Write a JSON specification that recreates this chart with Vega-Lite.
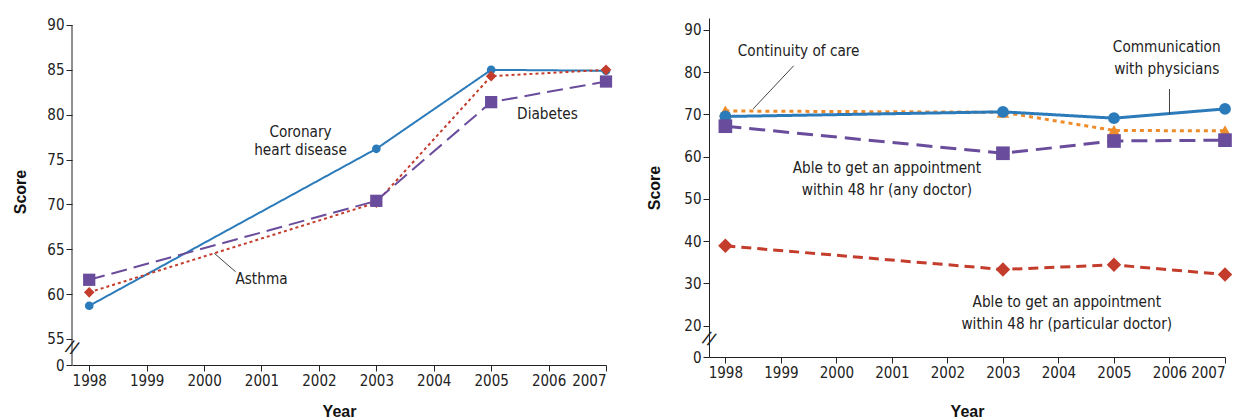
{
  "$schema": "https://vega.github.io/schema/vega-lite/v6.json",
  "padding": {"left": 12, "top": 17, "right": 0, "bottom": 0},
  "background": "white",
  "spacing": 33,
  "resolve": {"scale": {"color": "independent", "shape": "independent", "size": "independent", "strokeDash": "independent", "strokeWidth": "independent"}},
  "datasets": {
    "left": [
      {"series": "Coronary heart disease", "year": 1998, "score": 58.7},
      {"series": "Coronary heart disease", "year": 2003, "score": 76.2},
      {"series": "Coronary heart disease", "year": 2005, "score": 85.0},
      {"series": "Coronary heart disease", "year": 2007, "score": 84.9},
      {"series": "Asthma", "year": 1998, "score": 60.2},
      {"series": "Asthma", "year": 2003, "score": 70.2},
      {"series": "Asthma", "year": 2005, "score": 84.3},
      {"series": "Asthma", "year": 2007, "score": 85.0},
      {"series": "Diabetes", "year": 1998, "score": 61.6},
      {"series": "Diabetes", "year": 2003, "score": 70.4},
      {"series": "Diabetes", "year": 2005, "score": 81.4},
      {"series": "Diabetes", "year": 2007, "score": 83.7}
    ],
    "right": [
      {"series": "Continuity of care", "year": 1998, "score": 70.8},
      {"series": "Continuity of care", "year": 2003, "score": 70.5},
      {"series": "Continuity of care", "year": 2005, "score": 66.2},
      {"series": "Continuity of care", "year": 2007, "score": 66.1},
      {"series": "Communication with physicians", "year": 1998, "score": 69.5},
      {"series": "Communication with physicians", "year": 2003, "score": 70.6},
      {"series": "Communication with physicians", "year": 2005, "score": 69.1},
      {"series": "Communication with physicians", "year": 2007, "score": 71.3},
      {"series": "Any doctor", "year": 1998, "score": 67.2},
      {"series": "Any doctor", "year": 2003, "score": 60.8},
      {"series": "Any doctor", "year": 2005, "score": 63.7},
      {"series": "Any doctor", "year": 2007, "score": 63.9},
      {"series": "Particular doctor", "year": 1998, "score": 38.9},
      {"series": "Particular doctor", "year": 2003, "score": 33.3},
      {"series": "Particular doctor", "year": 2005, "score": 34.4},
      {"series": "Particular doctor", "year": 2007, "score": 32.1}
    ],
    "leftNotes": [
      {"label": "Coronary\nheart disease", "year": 2001.68, "score": 78.1},
      {"label": "Diabetes", "year": 2005.98, "score": 80.1},
      {"label": "Asthma", "year": 2001.0, "score": 61.7}
    ],
    "rightNotes": [
      {"label": "Continuity of care", "year": 1999.32, "score": 84.9},
      {"label": "Communication\nwith physicians", "year": 2005.95, "score": 86.0},
      {"label": "Able to get an appointment\nwithin 48 hr (any doctor)", "year": 2000.91, "score": 57.4},
      {"label": "Able to get an appointment\nwithin 48 hr (particular doctor)", "year": 2004.15, "score": 25.6}
    ],
    "leftLeaders": [
      {"year": 2000.18, "score": 64.54, "year2": 2000.55, "score2": 62.49}
    ],
    "rightLeaders": [
      {"year": 1999.23, "score": 81.5, "year2": 1998.5, "score2": 71.3},
      {"year": 2006.0, "score": 76.0, "year2": 2006.0, "score2": 70.1}
    ]
  },
  "hconcat": [
    {
      "width": 534,
      "height": 347,
      "layer": [
        {
          "data": {"values": [{}]},
          "mark": {"type": "rule", "color": "#222", "strokeWidth": 1},
          "encoding": {
            "x": {"datum": 1997.7, "type": "quantitative"},
            "y": {"datum": 52.1, "type": "quantitative"},
            "y2": {"datum": 90}
          }
        },
        {
          "data": {"name": "left"},
          "mark": {"type": "line", "strokeWidth": 2},
          "encoding": {
            "x": {
              "field": "year", "type": "quantitative",
              "scale": {"domain": [1997.7, 2007], "nice": false, "zero": false},
              "axis": {"values": [1998, 1999, 2000, 2001, 2002, 2003, 2004, 2005, 2006, 2007], "format": "d", "title": "Year", "titlePadding": 15}
            },
            "y": {
              "field": "score", "type": "quantitative",
              "scale": {"domain": [52.1, 90.78], "nice": false, "zero": false},
              "axis": {"values": [52.1, 55, 60, 65, 70, 75, 80, 85, 90], "labelExpr": "datum.value < 54 ? '0' : datum.label", "title": "Score", "domain": false, "titlePadding": 18}
            },
            "color": {
              "field": "series", "legend": null,
              "scale": {"domain": ["Coronary heart disease", "Asthma", "Diabetes"], "range": ["#2b7bbb", "#c43d2c", "#6a4c9c"]}
            },
            "strokeDash": {
              "field": "series", "legend": null,
              "scale": {"domain": ["Coronary heart disease", "Asthma", "Diabetes"], "range": [[1, 0], [3, 3], [16, 7]]}
            }
          }
        },
        {
          "data": {"name": "left"},
          "mark": {"type": "point", "filled": true, "opacity": 1},
          "encoding": {
            "x": {"field": "year", "type": "quantitative"},
            "y": {"field": "score", "type": "quantitative"},
            "color": {"field": "series", "legend": null},
            "shape": {
              "field": "series", "legend": null,
              "scale": {"domain": ["Coronary heart disease", "Asthma", "Diabetes"], "range": ["circle", "diamond", "square"]}
            },
            "size": {
              "field": "series", "legend": null,
              "scale": {"domain": ["Coronary heart disease", "Asthma", "Diabetes"], "range": [75, 150, 70]}
            }
          }
        },
        {
          "data": {"name": "leftLeaders"},
          "mark": {"type": "rule", "color": "#444", "strokeWidth": 1},
          "encoding": {
            "x": {"field": "year", "type": "quantitative"},
            "y": {"field": "score", "type": "quantitative"},
            "x2": {"field": "year2"},
            "y2": {"field": "score2"}
          }
        },
        {
          "data": {"name": "leftNotes"},
          "mark": {"type": "text", "font": "DejaVu Sans Condensed", "fontSize": 15.2, "lineBreak": "\n", "lineHeight": 18, "align": "center", "baseline": "middle", "color": "#222"},
          "encoding": {
            "x": {"field": "year", "type": "quantitative"},
            "y": {"field": "score", "type": "quantitative"},
            "text": {"field": "label"}
          }
        },
        {
          "data": {"values": [{}]},
          "mark": {"type": "text", "text": "//", "font": "Liberation Sans", "fontSize": 19, "angle": 22, "align": "center", "baseline": "middle", "color": "#222"},
          "encoding": {
            "x": {"datum": 1997.7, "type": "quantitative"},
            "y": {"datum": 54.0, "type": "quantitative"}
          }
        }
      ]
    },
    {
      "width": 516,
      "height": 339,
      "layer": [
        {
          "data": {"name": "right"},
          "mark": {"type": "line"},
          "encoding": {
            "x": {
              "field": "year", "type": "quantitative",
              "scale": {"domain": [1997.705, 2007], "nice": false, "zero": false},
              "axis": {"values": [1998, 1999, 2000, 2001, 2002, 2003, 2004, 2005, 2006, 2007], "format": "d", "title": "Year", "titlePadding": 23}
            },
            "y": {
              "field": "score", "type": "quantitative",
              "scale": {"domain": [12.6, 92.8], "nice": false, "zero": false},
              "axis": {"values": [12.6, 20, 30, 40, 50, 60, 70, 80, 90], "labelExpr": "datum.value < 15 ? '0' : datum.label", "title": "Score", "titlePadding": 21}
            },
            "color": {
              "field": "series", "legend": null,
              "scale": {"domain": ["Particular doctor", "Any doctor", "Continuity of care", "Communication with physicians"], "range": ["#c43d2c", "#6a4c9c", "#ee8c2c", "#2b7bbb"]}
            },
            "strokeDash": {
              "field": "series", "legend": null,
              "scale": {"domain": ["Particular doctor", "Any doctor", "Continuity of care", "Communication with physicians"], "range": [[10, 6], [16, 8], [4, 4], [1, 0]]}
            },
            "strokeWidth": {
              "field": "series", "legend": null,
              "scale": {"domain": ["Particular doctor", "Any doctor", "Continuity of care", "Communication with physicians"], "range": [3, 3, 3.5, 2.5]}
            }
          }
        },
        {
          "data": {"name": "right"},
          "mark": {"type": "point", "filled": true, "opacity": 1},
          "encoding": {
            "x": {"field": "year", "type": "quantitative"},
            "y": {"field": "score", "type": "quantitative"},
            "color": {"field": "series", "legend": null},
            "shape": {
              "field": "series", "legend": null,
              "scale": {"domain": ["Particular doctor", "Any doctor", "Continuity of care", "Communication with physicians"], "range": ["diamond", "square", "triangle-up", "circle"]}
            },
            "size": {
              "field": "series", "legend": null,
              "scale": {"domain": ["Particular doctor", "Any doctor", "Continuity of care", "Communication with physicians"], "range": [210, 140, 170, 130]}
            }
          }
        },
        {
          "data": {"name": "rightLeaders"},
          "mark": {"type": "rule", "color": "#444", "strokeWidth": 1},
          "encoding": {
            "x": {"field": "year", "type": "quantitative"},
            "y": {"field": "score", "type": "quantitative"},
            "x2": {"field": "year2"},
            "y2": {"field": "score2"}
          }
        },
        {
          "data": {"name": "rightNotes"},
          "mark": {"type": "text", "font": "DejaVu Sans Condensed", "fontSize": 15.2, "lineBreak": "\n", "lineHeight": 22, "align": "center", "baseline": "middle", "color": "#222"},
          "encoding": {
            "x": {"field": "year", "type": "quantitative"},
            "y": {"field": "score", "type": "quantitative"},
            "text": {"field": "label"}
          }
        },
        {
          "data": {"values": [{}]},
          "mark": {"type": "text", "text": "//", "font": "Liberation Sans", "fontSize": 19, "angle": 22, "align": "center", "baseline": "middle", "color": "#222"},
          "encoding": {
            "x": {"datum": 1997.705, "type": "quantitative"},
            "y": {"datum": 16.8, "type": "quantitative"}
          }
        }
      ]
    }
  ],
  "config": {
    "view": {"stroke": null},
    "axis": {
      "grid": false,
      "labelFont": "DejaVu Sans Condensed",
      "labelFontSize": 15,
      "labelOverlap": false,
      "labelColor": "#222",
      "labelPadding": 2,
      "tickSize": 6,
      "tickColor": "#222",
      "domainColor": "#222",
      "titleFont": "Liberation Sans",
      "titleFontSize": 16,
      "titleFontWeight": "bold",
      "titleColor": "#111"
    }
  }
}
